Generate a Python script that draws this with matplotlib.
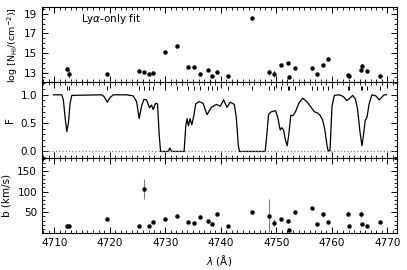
import matplotlib
matplotlib.use("Agg")
import matplotlib.pyplot as plt
from matplotlib.ticker import MultipleLocator

# fitted absorption components
wave = [4712.33, 4712.69, 4719.52, 4725.26, 4726.16, 4727.06, 4727.78, 4729.93,
        4732.08, 4734.06, 4735.13, 4736.21, 4737.65, 4738.37, 4739.26, 4741.24,
        4745.55, 4748.60, 4749.50, 4750.93, 4752.19, 4752.37, 4753.45, 4756.50,
        4757.40, 4758.47, 4759.37, 4762.96, 4763.14, 4765.30, 4765.48, 4766.37,
        4768.71]
logN = [13.35, 12.9, 12.86, 13.17, 13.07, 12.86, 13.0, 15.1,
        15.7, 13.58, 13.55, 12.86, 13.28, 12.66, 13.07, 12.66,
        18.6, 13.1, 12.9, 13.79, 14.0, 12.55, 13.48, 13.48,
        12.86, 13.79, 14.4, 12.75, 12.66, 13.3, 13.7, 13.17,
        12.66]
logN_err = [0.25, 0.45, 0.05, 0.05, 0.05, 0.05, 0.05, 0.05,
            0.05, 0.05, 0.05, 0.05, 0.05, 0.05, 0.05, 0.05,
            0.05, 0.3, 0.35, 0.05, 0.05, 0.05, 0.05, 0.05,
            0.05, 0.05, 0.05, 0.05, 0.05, 0.2, 0.15, 0.05,
            0.05]
b = [16, 16, 33, 18, 106, 16, 26, 35,
     40, 26, 24, 38, 30, 21, 45, 18,
     50, 42, 25, 35, 30, 8, 50, 60,
     21, 45, 26, 47, 16, 45, 21, 18,
     26]
b_err = [5, 3, 1, 1, 25, 1, 1, 1,
         1, 1, 1, 1, 1, 1, 1, 1,
         1, 40, 8, 1, 1, 1, 1, 1,
         1, 6, 1, 6, 1, 7, 1, 1,
         1]

# model flux
flux_wave = [4709.87, 4711.38, 4711.67, 4711.97, 4712.28, 4712.57, 4712.87, 4713.18,
             4718.56, 4718.98, 4719.57, 4720.05, 4720.65, 4723.05, 4724.24, 4724.85,
             4725.31, 4725.74, 4726.16, 4726.64, 4727.17, 4727.53, 4727.83, 4728.26,
             4728.62, 4728.91, 4729.16, 4730.53, 4730.83, 4731.13, 4733.40, 4733.70,
             4733.94, 4734.18, 4734.47, 4734.78, 4735.13, 4735.49, 4736.08, 4736.81,
             4737.53, 4738.31, 4739.21, 4739.93, 4740.52, 4741.11, 4741.72, 4742.44,
             4742.80, 4743.16, 4743.39, 4748.00, 4748.30, 4748.60, 4749.08, 4749.86,
             4750.27, 4750.70, 4751.00, 4751.30, 4751.65, 4751.96, 4752.25, 4752.61,
             4752.97, 4753.45, 4754.05, 4754.76, 4755.48, 4756.26, 4756.86, 4757.45,
             4757.94, 4758.35, 4758.71, 4759.14, 4759.37, 4759.67, 4760.03, 4760.45,
             4761.35, 4762.07, 4762.66, 4763.14, 4763.74, 4764.22, 4764.63, 4765.06,
             4765.42, 4765.71, 4766.01, 4766.32, 4766.73, 4767.22, 4767.93, 4768.53,
             4769.01, 4769.42, 4769.84]
flux = [1.0, 1.0, 0.9, 0.6, 0.35, 0.5, 0.85, 0.99,
        1.0, 0.97, 0.87, 0.95, 1.0, 1.0, 0.98, 0.88,
        0.58, 0.8, 0.92, 0.91, 0.77, 0.82, 0.74, 0.85,
        0.84, 0.3, 0.0, 0.0, 0.06, 0.0, 0.0, 0.45,
        0.58, 0.45, 0.58, 0.47, 0.62, 0.84, 0.88, 0.85,
        0.65, 0.78, 0.83, 0.8, 0.91, 0.78, 0.87, 0.83,
        0.6, 0.1, 0.0, 0.0, 0.3, 0.65, 0.7, 0.72,
        0.6, 0.38, 0.42, 0.38, 0.2, 0.1, 0.3, 0.64,
        0.63, 0.7, 0.85, 0.94, 0.88, 0.78, 0.7, 0.68,
        0.63, 0.55, 0.4, 0.1, 0.0, 0.02, 0.8, 0.99,
        1.0, 0.97, 0.9, 0.93, 0.99, 0.93, 0.75, 0.35,
        0.1, 0.3, 0.55, 0.6, 0.85, 1.0, 0.98, 0.91,
        0.96, 1.0, 1.0]

plt.rcParams['font.size'] = 7.5
fig, axes = plt.subplots(3, 1, figsize=(4.07, 2.70), dpi=100, sharex=True)
fig.subplots_adjust(left=0.103, right=0.975, top=0.974, bottom=0.137, hspace=0)
ax1, ax2, ax3 = axes

# column densities
ax1.errorbar(wave, logN, yerr=logN_err, fmt='o', ms=2.2, color='black',
             ecolor='grey', elinewidth=0.8, capsize=0)
ax1.set_ylim(12.0, 19.7)
ax1.set_yticks([13, 15, 17, 19])
ax1.yaxis.set_minor_locator(MultipleLocator(0.5))
ax1.set_ylabel(r'log [N$_{\rm HI}$/(cm$^{-2}$)]', fontsize=6.8, labelpad=3)
ax1.text(0.11, 0.80, r'Ly$\alpha$-only fit', transform=ax1.transAxes, fontsize=7.5)

# model flux
ax2.plot(flux_wave, flux, color='black', lw=0.9)
ax2.axhline(0.0, color='grey', ls=':', lw=0.9)
ax2.vlines(wave, 1.08, 1.15, color='black', lw=0.7)
ax2.set_ylim(-0.11, 1.22)
ax2.yaxis.set_major_locator(MultipleLocator(0.5))
ax2.yaxis.set_minor_locator(MultipleLocator(0.1))
ax2.set_ylabel('F', fontsize=7.5)

# Doppler parameters
ax3.errorbar(wave, b, yerr=b_err, fmt='o', ms=2.2, color='black',
             ecolor='grey', elinewidth=0.8, capsize=0)
ax3.set_ylim(0, 182)
ax3.set_yticks([50, 100, 150])
ax3.yaxis.set_minor_locator(MultipleLocator(10))
ax3.set_ylabel('b (km/s)', fontsize=7.5)
ax3.set_xlabel(r'$\lambda$ (Å)', fontsize=7.5)

ax3.set_xlim(4707.8, 4771.7)
ax3.xaxis.set_major_locator(MultipleLocator(10))
ax3.xaxis.set_minor_locator(MultipleLocator(1))

for ax in axes:
    ax.tick_params(which='both', direction='in', top=True, right=True, labelsize=7.5)
    ax.tick_params(which='major', length=4, width=0.7)
    ax.tick_params(which='minor', length=2, width=0.6)
    for s in ax.spines.values():
        s.set_linewidth(0.8)

plt.savefig('out.png', dpi=100)
